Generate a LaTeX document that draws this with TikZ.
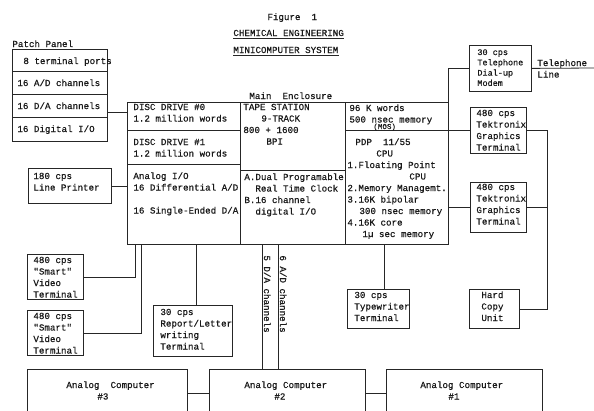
\documentclass[tikz,border=0pt]{standalone}
\usepackage{fontspec}
\setmonofont{Liberation Mono}[FakeBold=0.6]
\usetikzlibrary{calc}

\newcommand{\typed}[1]{\begin{tabular}[t]{@{}l@{}}#1\end{tabular}}

\tikzset{
  unit/.style={draw=black!85, rectangle, anchor=north west, inner sep=0pt},
  txt/.style={anchor=base west, inner sep=0pt, text=black!90,
    font=\ttfamily\fontsize{9.2}{11.5}\selectfont},
  smalltxt/.style={txt, font=\ttfamily\fontsize{8.5}{10.3}\selectfont}
}

\begin{document}
\begin{tikzpicture}[x=1pt, y=-1pt, line width=0.8pt]
    \useasboundingbox (0,0) rectangle (594,410);
    \clip (0,0) rectangle (594,410);

    % Title lines
    \node[txt] (fig) at (267,20) {Figure\ \ 1};
    \node[txt] (chem) at (233,36) {CHEMICAL ENGINEERING};
    \node[txt] (mini) at (233,53) {MINICOMPUTER SYSTEM};
    \draw[black!85] ([yshift=-2.5pt]chem.base west) -- ([yshift=-2.5pt]chem.base east);
    \draw[black!85] ([yshift=-2.5pt]mini.base west) -- ([yshift=-2.5pt]mini.base east);

    % Patch panel
    \node[txt] (pplbl) at (12,47) {Patch Panel};
    \node[unit, minimum width=95pt, minimum height=22pt] (pport) at (12,49) {};
    \node[unit, minimum width=95pt, minimum height=23pt] (pad) at (12,71) {};
    \node[unit, minimum width=95pt, minimum height=23pt] (pda) at (12,94) {};
    \node[unit, minimum width=95pt, minimum height=24pt] (pdio) at (12,117) {};
    \node[txt] (pporttx) at (23,64) {8 terminal ports};
    \node[txt] (padtx) at (17,86) {16 A/D channels};
    \node[txt] (pdatx) at (17,109) {16 D/A channels};
    \node[txt] (pdiotx) at (17,132) {16 Digital I/O};

    % Main enclosure
    \node[txt] (encllbl) at (249,99) {Main\ \ Enclosure};
    \node[unit, minimum width=113pt, minimum height=28pt] (disc0) at (127,102) {};
    \node[unit, minimum width=113pt, minimum height=34pt] (disc1) at (127,130) {};
    \node[unit, minimum width=113pt, minimum height=80pt] (anio) at (127,164) {};
    \node[unit, minimum width=105pt, minimum height=68pt] (tape) at (240,102) {};
    \node[unit, minimum width=105pt, minimum height=74pt] (rtc) at (240,170) {};
    \node[unit, minimum width=103pt, minimum height=28pt] (mem) at (345,102) {};
    \node[unit, minimum width=103pt, minimum height=114pt] (cpu) at (345,130) {};

    \node[txt] (disc0tx) at (133,110) {\typed{DISC DRIVE \#0\\1.2 million words}};
    \node[txt] (disc1tx) at (133,145) {\typed{DISC DRIVE \#1\\1.2 million words}};
    \node[txt] (aniotx) at (133,179) {\typed{Analog I/O\\16 Differential A/D\\ \\16 Single-Ended D/A}};
    \node[txt] (tapetx) at (243,110) {\typed{TAPE STATION\\\hspace*{18pt}9-TRACK\\800 + 1600\\\hspace*{23pt}BPI}};
    \node[txt] (rtctx) at (244,180) {\typed{A.Dual Programable\\\hspace*{11pt}Real Time Clock\\B.16 channel\\\hspace*{11pt}digital I/O}};
    \node[txt] (memtx) at (349,111) {\typed{96 K words\\500 nsec memory}};
    \node[txt, font=\ttfamily\fontsize{7.5}{9}\selectfont] (mostx) at (373,129) {(MOS)};
    \node[txt] (cputx) at (347,145) {\typed{\hspace*{8pt}PDP\ \ 11/55\\\hspace*{29pt}CPU\\1.Floating Point\\\hspace*{62pt}CPU\\2.Memory Managemt.\\3.16K bipolar\\\hspace*{12pt}300 nsec memory\\4.16K core\\\hspace*{15pt}1µ sec memory}};

    % Right hand side
    \node[unit, minimum width=62pt, minimum height=46pt] (modem) at (469,45) {};
    \node[unit, minimum width=56pt, minimum height=46pt] (tek1) at (470,107) {};
    \node[unit, minimum width=56pt, minimum height=50pt] (tek2) at (470,182) {};
    \node[unit, minimum width=50pt, minimum height=39pt] (hcopy) at (469,289) {};
    \node[smalltxt] (modemtx) at (477,55) {\typed{30 cps\\Telephone\\Dial-up\\Modem}};
    \node[txt] (tellbl) at (537,66) {\typed{Telephone\\Line}};
    \node[txt] (tek1tx) at (476,116) {\typed{480 cps\\Tektronix\\Graphics\\Terminal}};
    \node[txt] (tek2tx) at (476,190) {\typed{480 cps\\Tektronix\\Graphics\\Terminal}};
    \node[txt] (hcopytx) at (481,298) {\typed{Hard\\Copy\\Unit}};

    % Left hand side and below
    \node[unit, minimum width=83pt, minimum height=35pt] (lprint) at (28,168) {};
    \node[unit, minimum width=56pt, minimum height=45pt] (video1) at (27,254) {};
    \node[unit, minimum width=56pt, minimum height=45pt] (video2) at (27,310) {};
    \node[unit, minimum width=79pt, minimum height=51pt] (report) at (153,305) {};
    \node[unit, minimum width=62pt, minimum height=39pt] (typew) at (347,289) {};
    \node[txt] (lprinttx) at (33,179) {\typed{180 cps\\Line Printer}};
    \node[txt] (video1tx) at (33,263) {\typed{480 cps\\"Smart"\\Video\\Terminal}};
    \node[txt] (video2tx) at (33,319) {\typed{480 cps\\"Smart"\\Video\\Terminal}};
    \node[txt] (reporttx) at (160,315) {\typed{30 cps\\Report/Letter\\writing\\Terminal}};
    \node[txt] (typewtx) at (354,298) {\typed{30 cps\\Typewriter\\Terminal}};

    % Analog computers
    \node[unit, minimum width=160pt, minimum height=60pt] (ac3) at (27,369) {};
    \node[unit, minimum width=156pt, minimum height=60pt] (ac2) at (209,369) {};
    \node[unit, minimum width=156pt, minimum height=60pt] (ac1) at (386,369) {};
    \node[txt] (ac3tx) at (66,388) {\typed{Analog\ \ Computer\\\hspace*{31pt}\#3}};
    \node[txt] (ac2tx) at (244,388) {\typed{Analog Computer\\\hspace*{30pt}\#2}};
    \node[txt] (ac1tx) at (420,388) {\typed{Analog Computer\\\hspace*{28pt}\#1}};

    % Connections
    \begin{scope}[black!85]
        \coordinate (pp) at ([yshift=-6.5pt]pda.east);
        \draw (pp) -- (pp -| disc0.west);
        \draw (lprint.east) -- (lprint.east -| anio.west);
        \coordinate (v1) at ([xshift=8pt]anio.south west);
        \coordinate (v2) at ([xshift=14pt]anio.south west);
        \draw (video1.east) -| (v1);
        \draw (video2.east) -| (v2);
        \coordinate (rp) at ([xshift=3.5pt]report.north);
        \draw (rp) -- (rp |- anio.south);
        \coordinate (tw) at ([xshift=6pt]typew.north);
        \draw (tw) -- (tw |- cpu.south);

        \coordinate (dach) at ([xshift=22pt]rtc.south west);
        \coordinate (adch) at ([xshift=38pt]rtc.south west);
        \draw (dach) -- (dach |- ac2.north);
        \draw (adch) -- (adch |- ac2.north);

        \coordinate (a32) at ([yshift=-24pt]ac3.north east);
        \coordinate (a21) at ([yshift=-24pt]ac2.north east);
        \draw (a32) -- (a32 -| ac2.west);
        \draw (a21) -- (a21 -| ac1.west);

        \draw (mem.north east) |- (modem.west);
        \coordinate (telend) at (594,68);
        \draw (modem.east) -- (telend);
        \draw (tek1.west) -- (tek1.west -| cpu.east);
        \draw (tek2.west) -- (tek2.west -| cpu.east);
        \coordinate (rbus) at ([xshift=28pt]hcopy.east);
        \draw (tek1.east) -| (rbus) -- (hcopy.east);
        \draw (tek2.east) -- (tek2.east -| rbus);
    \end{scope}
    \node[txt, rotate=-90] (dalbl) at (264,255) {5 D/A channels};
    \node[txt, rotate=-90] (adlbl) at (280,255) {6 A/D channels};
\end{tikzpicture}
\end{document}
